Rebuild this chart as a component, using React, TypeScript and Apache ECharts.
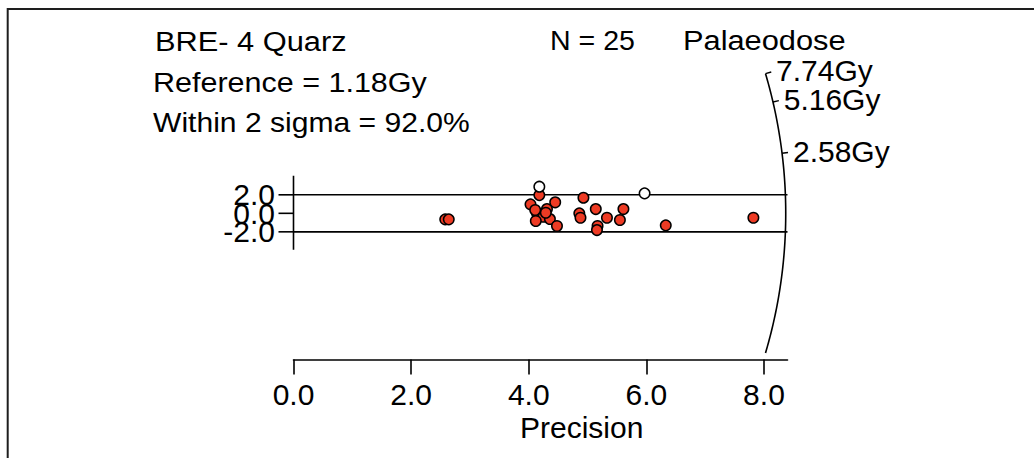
import React, { useEffect, useRef } from "react";
import * as echarts from "echarts";

// ---- data ----
const title = "BRE- 4 Quarz";
const nLabel = "N = 25";
const referenceLabel = "Reference = 1.18Gy";
const withinLabel = "Within 2 sigma = 92.0%";
const axisTitle = "Palaeodose";
const xName = "Precision";

const referenceDose = 1.18; // Gy
const arcMaxDose = 7.74; // Gy, top end of the radial scale
const arcMinDose = 0.18; // Gy, bottom end of the radial scale
const arcRadius = 8.37; // precision units along y = 0
const doseTicks = [7.74, 5.16, 2.58];

const xTicks = [0, 2, 4, 6, 8];
const yTicks = [2, 0, -2];
const sigmaBand = [2, -2];
const yAxisExtent = [4.05, -3.95];

// [precision, standardised estimate]
const pointsInside: [number, number][] = [
  [2.58, -0.65], [2.64, -0.65],
  [4.18, 1.97], [4.93, 1.69], [4.45, 1.19], [4.03, 0.97], [4.31, 0.46],
  [4.14, 0.0], [4.25, -0.37], [4.12, -0.83], [4.36, -0.62], [4.48, -1.37],
  [4.86, 0.0], [4.88, -0.48], [5.14, 0.46], [5.33, -0.48], [5.17, -1.37],
  [5.16, -1.81], [5.61, 0.46], [5.55, -0.72], [6.33, -1.30], [7.82, -0.48],
  [4.11, 0.36], [4.29, 0.06],
];
const pointsOutside: [number, number][] = [
  [4.18, 2.88], [5.97, 2.16],
];

const FONT = "'Liberation Sans', Arial, Helvetica, sans-serif";

export default function App() {
  const ref = useRef<HTMLDivElement>(null);
  useEffect(() => {
    if (!ref.current) return;
    const chart = echarts.init(ref.current, null, { renderer: "svg" });

    const topText = (text: string, x: number, y: number, scaleX: number, fontSize = 28) => ({
      type: "text",
      x,
      y,
      scaleX,
      style: { text, fontSize, fontFamily: FONT, fill: "#000", align: "left", verticalAlign: "middle" },
      z: 10,
    });

    const option: any = {
      animation: false,
      backgroundColor: "#fff",
      grid: [
        { left: 293.5, top: 65.3, width: 494, height: 294.2, containLabel: false, outerBoundsMode: "none" },
      ],
      xAxis: [
        {
          type: "value", gridIndex: 0, min: 0, max: 8.4, interval: 2,
          splitLine: { show: false },
          axisLine: { show: true, onZero: false, lineStyle: { color: "#000", width: 1.6 } },
          axisTick: { show: true, customValues: xTicks, length: 15, lineStyle: { color: "#000", width: 1.6 } },
          axisLabel: {
            customValues: xTicks, formatter: (v: number) => v.toFixed(1),
            fontSize: 30, fontFamily: FONT, color: "#000", margin: 20,
          },
        },
      ],
      yAxis: [
        { type: "value", gridIndex: 0, min: -15.8, max: 16, show: false },
      ],
      graphic: [
        { type: "rect", shape: { x: 7.7, y: 9, width: 1200, height: 600 }, style: { fill: "none", stroke: "#1e1e1e", lineWidth: 2 }, silent: true },
        topText(title, 155, 41, 1.10),
        topText(nLabel, 550, 40, 1.02),
        topText(axisTitle, 683, 40, 1.10),
        topText(referenceLabel, 153, 82, 1.09),
        topText(withinLabel, 153, 122, 1.075),
        {
          type: "text", x: 520, y: 427.5,
          style: { text: xName, fontSize: 30, fontFamily: FONT, fill: "#000", align: "left", verticalAlign: "middle" },
        },
      ],
      series: [
        {
          type: "line", xAxisIndex: 0, yAxisIndex: 0, symbol: "none", silent: true,
          data: yAxisExtent.map((y) => [0, y]),
          lineStyle: { color: "#000", width: 1.6 }, z: 2,
        },
        ...sigmaBand.map((b) => ({
          type: "line", xAxisIndex: 0, yAxisIndex: 0, symbol: "none", silent: true,
          data: [[0, b], [8.4, b]],
          lineStyle: { color: "#000", width: 1.6 }, z: 2,
        })),
        {
          // standardised-estimate axis ticks and labels
          type: "custom", xAxisIndex: 0, yAxisIndex: 0, silent: true, clip: false, z: 3,
          data: yTicks.map((v) => [0, v]),
          renderItem: (_params: any, api: any) => {
            const p = api.coord([api.value(0), api.value(1)]);
            return {
              type: "group",
              children: [
                { type: "line", shape: { x1: p[0] - 15, y1: p[1], x2: p[0], y2: p[1] }, style: { stroke: "#000", lineWidth: 1.6 } },
                {
                  type: "text",
                  style: {
                    text: api.value(1).toFixed(1), x: p[0] - 18.5, y: p[1],
                    fontSize: 30, fontFamily: FONT, fill: "#000", align: "right", verticalAlign: "middle",
                  },
                },
              ],
            };
          },
        },
        {
          type: "custom", xAxisIndex: 0, yAxisIndex: 0, silent: true, clip: false,
          data: [[0, 0]], z: 3,
          renderItem: (_params: any, api: any) => {
            const o = api.coord([0, 0]);
            const R = api.coord([arcRadius, 0])[0] - o[0];
            const dirAngle = (d: number) => {
              const s = Math.log(d / referenceDose);
              const p = api.coord([1, s]);
              return Math.atan2(p[1] - o[1], p[0] - o[0]);
            };
            const a0 = dirAngle(arcMaxDose);
            const a1 = dirAngle(arcMinDose);
            const pts: number[][] = [];
            const steps = 80;
            for (let i = 0; i <= steps; i++) {
              const a = a0 + ((a1 - a0) * i) / steps;
              pts.push([o[0] + R * Math.cos(a), o[1] + R * Math.sin(a)]);
            }
            const children: any[] = [
              { type: "polyline", shape: { points: pts }, style: { stroke: "#000", lineWidth: 1.6, fill: "none" } },
            ];
            doseTicks.forEach((d) => {
              const a = dirAngle(d);
              const c = Math.cos(a), s = Math.sin(a);
              children.push({
                type: "line",
                shape: { x1: o[0] + R * c, y1: o[1] + R * s, x2: o[0] + (R + 6) * c, y2: o[1] + (R + 6) * s },
                style: { stroke: "#000", lineWidth: 1.4 },
              });
              children.push({
                type: "text",
                style: {
                  text: d.toFixed(2) + "Gy", x: o[0] + (R + 11) * c, y: o[1] + (R + 11) * s,
                  fontSize: 30, fontFamily: FONT, fill: "#000", align: "left", verticalAlign: "middle",
                },
              });
            });
            return { type: "group", children };
          },
        },
        {
          type: "scatter", xAxisIndex: 0, yAxisIndex: 0, data: pointsInside, symbol: "circle", symbolSize: 10.5,
          itemStyle: { color: "#ee3b24", borderColor: "#000", borderWidth: 1.5, opacity: 1 }, z: 5,
        },
        {
          type: "scatter", xAxisIndex: 0, yAxisIndex: 0, data: pointsOutside, symbol: "circle", symbolSize: 10.5,
          itemStyle: { color: "#fff", borderColor: "#000", borderWidth: 1.5, opacity: 1 }, z: 6,
        },
      ],
    };
    chart.setOption(option);
    return () => chart.dispose();
  }, []);
  return <div ref={ref} style={{ position: "fixed", left: 0, top: 0, width: 1034, height: 458 }} />;
}
